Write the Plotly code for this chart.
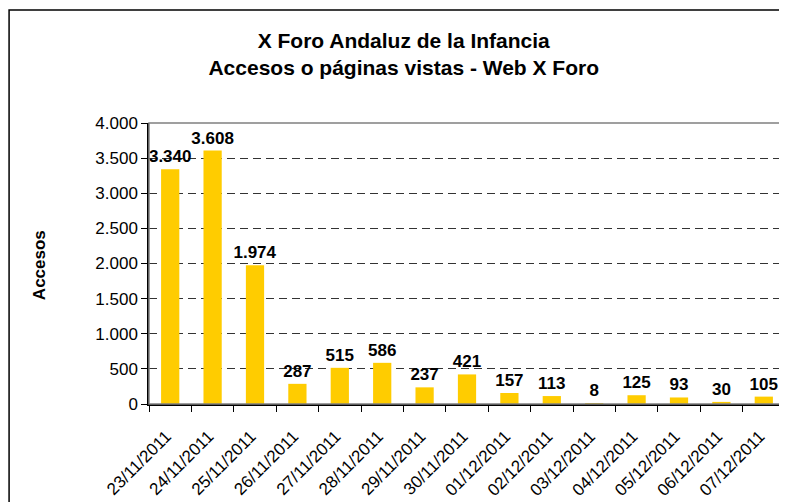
import plotly.graph_objects as go

fechas = ["23/11/2011", "24/11/2011", "25/11/2011", "26/11/2011", "27/11/2011",
          "28/11/2011", "29/11/2011", "30/11/2011", "01/12/2011", "02/12/2011",
          "03/12/2011", "04/12/2011", "05/12/2011", "06/12/2011", "07/12/2011"]
accesos = [3340, 3608, 1974, 287, 515, 586, 237, 421, 157, 113, 8, 125, 93, 30, 105]

FONT = "Liberation Sans, Arial, sans-serif"

fig = go.Figure()

fig.add_trace(go.Bar(
    x=fechas,
    y=accesos,
    marker=dict(color="#FFCC00", line=dict(width=0)),
    text=accesos,
    texttemplate="%{y:,}",
    textposition="outside",
    constraintext="none",
    textfont=dict(family=FONT, size=17, color="black", weight="bold"),
    cliponaxis=False,
))

# borde exterior del grafico
fig.add_shape(type="rect", xref="paper", yref="paper",
              x0=-0.22, x1=1.2, y0=-0.6, y1=1.402,
              line=dict(color="black", width=1.5), layer="below")

# borde del area de trazado
fig.add_shape(type="rect", xref="paper", yref="paper",
              x0=0, x1=1, y0=0, y1=1,
              line=dict(color="#808080", width=1.5), layer="above")

fig.add_annotation(
    text="<b>Accesos</b>", textangle=-90,
    xref="paper", yref="paper", x=-0.171, y=0.495,
    xanchor="center", yanchor="middle",
    showarrow=False, font=dict(family=FONT, size=17, color="black"),
)

# la pagina deja 8px de margen, el grafico se ajusta a eso
fig.update_layout(
    width=779, height=494,
    margin=dict(l=141, r=2, t=115, b=98),
    paper_bgcolor="white",
    plot_bgcolor="white",
    separators=",.",
    showlegend=False,
    bargap=0.57,
    title=dict(
        text="<b>X Foro Andaluz de la Infancia<br>Accesos o páginas vistas - Web X Foro</b>",
        x=0.508, xanchor="center", xref="container",
        y=0.919, yanchor="middle", yref="container",
        font=dict(family=FONT, size=21, color="black"),
    ),
    xaxis=dict(
        type="category",
        tickangle=-45,
        tickson="boundaries",
        ticks="outside", ticklen=6, tickcolor="black",
        ticklabelstandoff=14, ticklabelshift=-4,
        showline=True, linecolor="black", linewidth=1.5,
        showgrid=False,
        automargin=False,
        tickfont=dict(family=FONT, size=17, color="black"),
    ),
    yaxis=dict(
        range=[0, 4000],
        dtick=500,
        tickformat=",",
        ticks="outside", ticklen=6, tickcolor="black",
        showline=True, linecolor="black", linewidth=1.5,
        showgrid=True, gridcolor="#333333", griddash="8px,5px", gridwidth=1,
        zeroline=False,
        automargin=False,
        tickfont=dict(family=FONT, size=17, color="black"),
    ),
)

fig.write_html("out.html")
